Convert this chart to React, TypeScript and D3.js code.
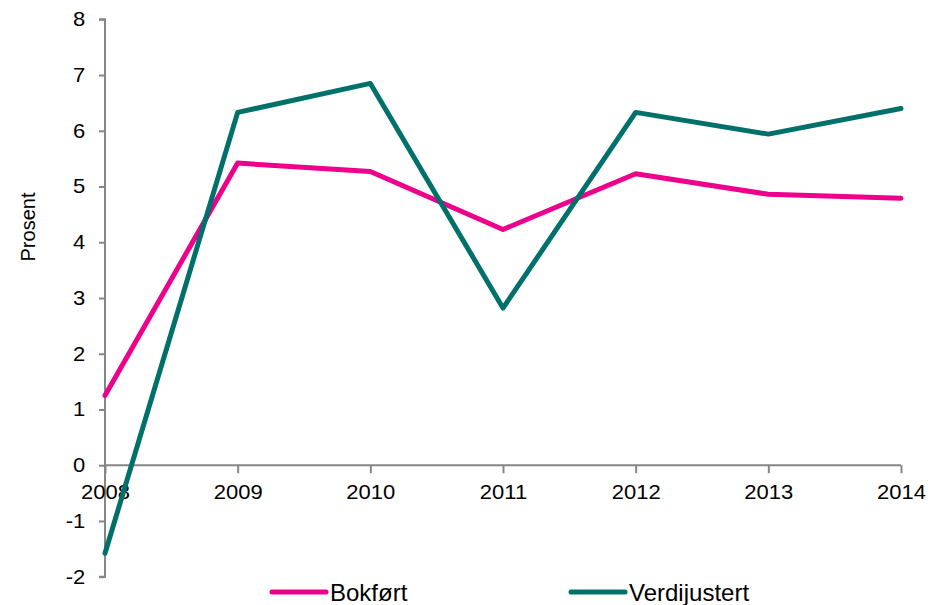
import React, { useEffect, useRef } from 'react';
import * as d3 from 'd3';

// years on the x axis
const years = ['2008', '2009', '2010', '2011', '2012', '2013', '2014'];
// series values (prosent)
const bokfort = [1.25, 5.42, 5.27, 4.23, 5.23, 4.86, 4.79];
const verdijustert = [-1.58, 6.33, 6.85, 2.82, 6.33, 5.94, 6.4];
const yTicks = [-2, -1, 0, 1, 2, 3, 4, 5, 6, 7, 8];

const series = [
    { name: 'Bokført', values: bokfort, color: '#EC008C' },
    { name: 'Verdijustert', values: verdijustert, color: '#00716A' }
];

const W = 944, H = 605;
const FONT = '"Liberation Sans", Arial, sans-serif';
const STRETCH = 'scale(1.1,1)'; // the original tick text is a bit wide

const App = () => {
    const ref = useRef<SVGSVGElement>(null);

    useEffect(() => {
        const svg = d3.select(ref.current);
        svg.selectAll('*').remove();

        const x = d3.scalePoint().domain(years).range([105, 901]);
        const y = d3.scaleLinear().domain([-2, 8]).range([576.7, 19.3]);

        // y axis
        const yAxis = svg.append('g').attr('transform', 'translate(105,0)')
            .call(d3.axisLeft(y).tickValues(yTicks).tickSize(6).tickPadding(12).tickFormat(d => String(d)));
        yAxis.select('.domain').attr('stroke', '#868686').attr('stroke-width', 2).attr('d', `M-6,${y(8)}H0V${y(-2)}H-6`);
        yAxis.selectAll('.tick line').attr('stroke', '#868686').attr('stroke-width', 2);
        yAxis.selectAll('.tick text').attr('font-size', 20).attr('font-family', FONT).attr('fill', '#000')
            .attr('transform', STRETCH);

        // x axis on zero
        const xAxis = svg.append('g').attr('transform', `translate(0,${y(0)})`)
            .call(d3.axisBottom(x).tickSize(8).tickPadding(12));
        xAxis.select('.domain').attr('stroke', '#868686').attr('stroke-width', 2).attr('d', `M105,0H901`);
        xAxis.selectAll('.tick line').attr('stroke', '#868686').attr('stroke-width', 2);
        xAxis.selectAll('.tick text').attr('font-size', 20).attr('font-family', FONT).attr('fill', '#000')
            .attr('transform', STRETCH);

        // y label
        svg.append('text')
            .attr('transform', `translate(35,227) rotate(-90)`)
            .attr('text-anchor', 'middle')
            .attr('font-size', 20).attr('font-family', FONT)
            .text('Prosent');

        const line = d3.line<number>()
            .x((d, i) => x(years[i]) as number)
            .y(d => y(d));

        series.forEach(s => {
            svg.append('path')
                .attr('d', line(s.values))
                .attr('fill', 'none')
                .attr('stroke', s.color)
                .attr('stroke-width', 5)
                .attr('stroke-linejoin', 'round')
                .attr('stroke-linecap', 'round');
        });

        // legend
        const legendX = [272, 571];
        series.forEach((s, i) => {
            const g = svg.append('g').attr('transform', `translate(${legendX[i]},592)`);
            g.append('line').attr('x1', 0).attr('x2', 54).attr('y1', 0).attr('y2', 0)
                .attr('stroke', s.color).attr('stroke-width', 5).attr('stroke-linecap', 'round');
            g.append('text').attr('x', 58).attr('y', 9)
                .attr('font-size', 24).attr('font-family', FONT)
                .text(s.name);
        });
    }, []);

    return (
        <svg ref={ref} width={W} height={H} style={{ position: 'absolute', left: 0, top: 0, background: '#fff' }} />
    );
};

export default App;
